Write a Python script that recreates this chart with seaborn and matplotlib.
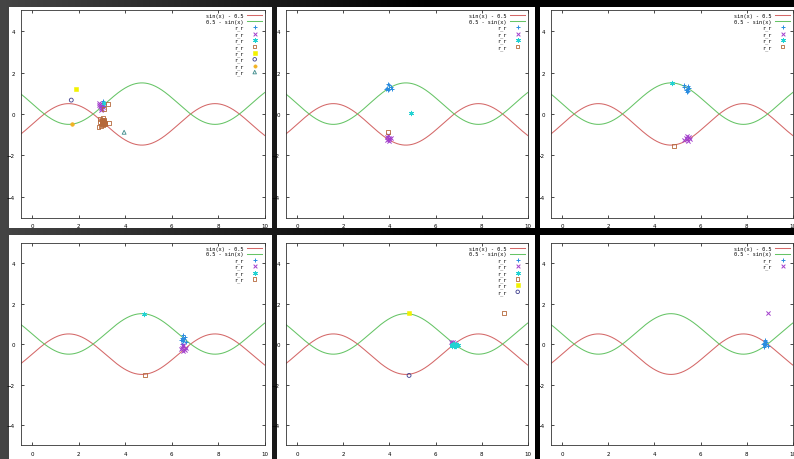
import numpy as np
import matplotlib
matplotlib.use("Agg")
import matplotlib.pyplot as plt
from matplotlib.patches import Rectangle
import seaborn as sns

# ---------------- data ----------------
curve_labels = ["sin(x) - 0.5", "0.5 - sin(x)"]
curve_colors = ["#d46868", "#66c466"]
x_min, x_max = -0.5, 10.0
y_min, y_max = -5.0, 5.0
x_ticks = [0, 2, 4, 6, 8, 10]
y_ticks = [-4, -2, 0, 2, 4]

point_label = "r_r"
# marker styles for point series (in legend order)
series_markers = ["+", "x", "*", "s_open", "s", "o_open", "o", "^_open"]
series_colors = ["#2a8ce0", "#a33fcc", "#22d2d2", "#b5683a",
                 "#f2f200", "#3c3c8c", "#f2b222", "#3c8a8a"]

# panel 1
p1_plus_x = [3.05, 3.00, 3.10, 2.95, 3.05, 3.08]
p1_plus_y = [0.55, 0.45, 0.50, 0.35, 0.62, 0.40]
p1_cross_x = [2.85, 2.95, 3.00, 2.90, 3.05, 3.00, 2.95, 2.88]
p1_cross_y = [0.45, 0.30, 0.25, 0.40, 0.35, 0.50, 0.20, 0.52]
p1_star_x = [3.10]
p1_star_y = [0.55]
p1_sq_x = [3.25, 3.10, 2.90, 3.05, 2.85, 2.95, 3.30, 2.90, 3.00, 3.05, 3.10,
           3.00, 3.08, 3.12, 3.02, 3.06, 3.04, 3.10, 2.98, 3.07, 3.13, 3.01]
p1_sq_y = [0.48, 0.22, -0.22, -0.20, -0.62, -0.60, -0.45, -0.40, -0.35, -0.45, -0.40,
           -0.50, -0.30, -0.50, -0.42, -0.38, -0.55, -0.33, -0.44, -0.48, -0.42, -0.28]
p1_fsq_x = [1.90]
p1_fsq_y = [1.20]
p1_circ_x = [1.68]
p1_circ_y = [0.67]
p1_fcirc_x = [1.70]
p1_fcirc_y = [-0.48]
p1_tri_x = [3.95]
p1_tri_y = [-0.88]

# panel 2
p2_plus_x = [3.90, 4.00, 4.05, 3.95, 4.10, 4.00, 3.85, 3.92]
p2_plus_y = [1.25, 1.20, 1.30, 1.15, 1.20, 1.40, 1.20, 1.45]
p2_cross_x = [3.90, 4.00, 3.95, 4.05, 3.90, 4.00, 3.97]
p2_cross_y = [-1.10, -1.20, -1.00, -1.15, -1.25, -1.30, -1.18]
p2_star_x = [4.93]
p2_star_y = [0.05]
p2_sq_x = [3.95]
p2_sq_y = [-0.87]

# panel 3
p3_plus_x = [5.30, 5.40, 5.45, 5.35, 5.50, 5.40, 5.30, 5.45]
p3_plus_y = [1.30, 1.20, 1.35, 1.15, 1.25, 1.05, 1.40, 1.10]
p3_cross_x = [5.30, 5.40, 5.50, 5.45, 5.35, 5.55, 5.42]
p3_cross_y = [-1.25, -1.20, -1.10, -1.30, -1.15, -1.20, -1.05]
p3_star_x = [4.78]
p3_star_y = [1.50]
p3_sq_x = [4.83]
p3_sq_y = [-1.55]

# panel 4
p4_plus_x = [6.45, 6.50, 6.55, 6.40, 6.60, 6.50, 6.45, 6.52]
p4_plus_y = [0.30, 0.15, 0.35, 0.20, 0.10, 0.45, 0.00, 0.25]
p4_cross_x = [6.45, 6.55, 6.50, 6.60, 6.40, 6.50, 6.48]
p4_cross_y = [-0.20, -0.30, -0.10, -0.20, -0.25, -0.35, -0.05]
p4_star_x = [4.80]
p4_star_y = [1.50]
p4_sq_x = [4.85]
p4_sq_y = [-1.55]

# panel 5
p5_plus_x = [6.75, 6.85]
p5_plus_y = [0.02, -0.05]
p5_cross_x = [6.65, 6.75, 6.85, 6.70]
p5_cross_y = [0.10, 0.08, 0.05, 0.00]
p5_star_x = [6.70, 6.80, 6.90, 6.75, 6.85, 6.95, 6.70, 6.80, 6.88]
p5_star_y = [-0.05, -0.02, -0.08, 0.00, -0.10, -0.05, -0.10, -0.12, 0.02]
p5_sq_x = [8.96]
p5_sq_y = [1.55]
p5_fsq_x = [4.83]
p5_fsq_y = [1.52]
p5_circ_x = [4.85]
p5_circ_y = [-1.55]

# panel 6
p6_plus_x = [8.75, 8.80, 8.85, 8.70, 8.90, 8.80, 8.75, 8.85, 8.78]
p6_plus_y = [0.05, -0.05, 0.10, 0.00, -0.10, 0.15, -0.15, 0.00, 0.20]
p6_cross_x = [8.92]
p6_cross_y = [1.53]

panels = [
    [(p1_plus_x, p1_plus_y), (p1_cross_x, p1_cross_y), (p1_star_x, p1_star_y),
     (p1_sq_x, p1_sq_y), (p1_fsq_x, p1_fsq_y), (p1_circ_x, p1_circ_y),
     (p1_fcirc_x, p1_fcirc_y), (p1_tri_x, p1_tri_y)],
    [(p2_plus_x, p2_plus_y), (p2_cross_x, p2_cross_y), (p2_star_x, p2_star_y),
     (p2_sq_x, p2_sq_y)],
    [(p3_plus_x, p3_plus_y), (p3_cross_x, p3_cross_y), (p3_star_x, p3_star_y),
     (p3_sq_x, p3_sq_y)],
    [(p4_plus_x, p4_plus_y), (p4_cross_x, p4_cross_y), (p4_star_x, p4_star_y),
     (p4_sq_x, p4_sq_y)],
    [(p5_plus_x, p5_plus_y), (p5_cross_x, p5_cross_y), (p5_star_x, p5_star_y),
     (p5_sq_x, p5_sq_y), (p5_fsq_x, p5_fsq_y), (p5_circ_x, p5_circ_y)],
    [(p6_plus_x, p6_plus_y), (p6_cross_x, p6_cross_y)],
]

# ---------------- layout ----------------
W, H = 794, 460
plt.rcParams["font.family"] = ["DejaVu Sans"]
fig = plt.figure(figsize=(W / 100, H / 100), dpi=100)
fig.patch.set_facecolor("black")

# dark gradient background
grad = np.zeros((H, W, 3))
xs_px = np.arange(W)
g = np.clip(0.27 * (1 - xs_px / 430.0), 0, 1)
grad[:, :, :] = g[None, :, None]
fig.figimage(grad, 0, 0, zorder=0)

white_boxes = [(9, 8, 272, 229), (277, 8, 535, 229), (540, 8, 794, 229),
               (9, 236, 272, 460), (277, 236, 535, 460), (540, 236, 794, 460)]
for (l, t, r, b) in white_boxes:
    fig.add_artist(Rectangle((l / W, 1 - b / H), (r - l) / W, (b - t) / H,
                             transform=fig.transFigure, facecolor="white",
                             edgecolor="none", zorder=1))

axes_px = [(20.5, 11.3, 265.0, 218.7), (285.5, 11.3, 528.0, 218.7),
           (550.5, 11.3, 793.0, 218.7), (20.5, 243.8, 265.0, 446.3),
           (285.5, 243.8, 528.0, 446.3), (550.5, 243.8, 793.0, 446.3)]

xline = np.linspace(x_min, x_max, 500)
curves = [np.sin(xline) - 0.5, 0.5 - np.sin(xline)]

for pi, (l, t, r, b) in enumerate(axes_px):
    ax = fig.add_axes([l / W, 1 - b / H, (r - l) / W, (b - t) / H], zorder=2)
    ax.set_facecolor("white")
    for ci in range(2):
        sns.lineplot(x=xline, y=curves[ci], color=curve_colors[ci], lw=0.75,
                     label=curve_labels[ci], sort=False, ax=ax)
    for si, (sx, sy) in enumerate(panels[pi]):
        m = series_markers[si]
        c = series_colors[si]
        kw = dict(x=sx, y=sy, label=point_label, ax=ax, zorder=3)
        if m == "+":
            sns.scatterplot(marker="+", color=c, s=12, linewidth=0.7, **kw)
        elif m == "x":
            sns.scatterplot(marker="x", color=c, s=9, linewidth=0.7, **kw)
        elif m == "*":
            sns.scatterplot(marker=(6, 2, 0), color=c, s=10, linewidth=0.7, **kw)
        elif m.endswith("_open"):
            base = m.split("_")[0]
            sns.scatterplot(marker=base, color=c, facecolor="none", edgecolor=c,
                            s=8, linewidth=0.6, **kw)
        else:
            sns.scatterplot(marker=m, color=c, edgecolor=c, s=7, linewidth=0.4, **kw)

    ax.set_xlim(x_min, x_max)
    ax.set_ylim(y_min, y_max)
    ax.set_xticks(x_ticks)
    ax.set_yticks(y_ticks)
    ax.set_xlabel("")
    ax.set_ylabel("")
    ax.tick_params(direction="in", length=2.5, width=0.5, labelsize=4,
                   top=True, right=True, pad=4, colors="black")
    for sp in ax.spines.values():
        sp.set_linewidth(0.6)
        sp.set_color("#333333")
    leg = ax.legend(loc="upper right", frameon=False, markerfirst=False,
                    prop={"family": "DejaVu Sans Mono", "size": 3.8},
                    handlelength=2.8, handletextpad=0.8,
                    labelspacing=0.15, borderaxespad=0.25, borderpad=0.3,
                    markerscale=0.9)

fig.savefig("out.png", dpi=100, facecolor=fig.get_facecolor())
